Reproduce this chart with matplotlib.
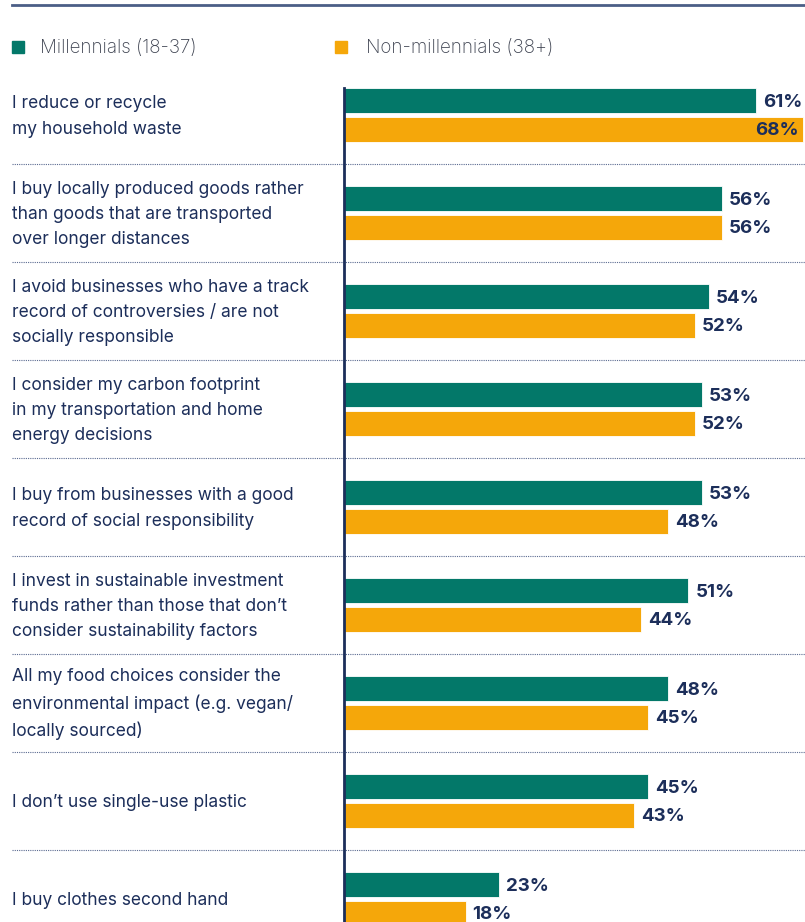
import matplotlib.pyplot as plt
from matplotlib.patches import Rectangle
from matplotlib.lines import Line2D

# Statements and survey shares (%)
statements = [
    "I reduce or recycle\nmy household waste",
    "I buy locally produced goods rather\nthan goods that are transported\nover longer distances",
    "I avoid businesses who have a track\nrecord of controversies / are not\nsocially responsible",
    "I consider my carbon footprint\nin my transportation and home\nenergy decisions",
    "I buy from businesses with a good\nrecord of social responsibility",
    "I invest in sustainable investment\nfunds rather than those that don\u2019t\nconsider sustainability factors",
    "All my food choices consider the\nenvironmental impact (e.g. vegan/\nlocally sourced)",
    "I don\u2019t use single-use plastic",
    "I buy clothes second hand",
]
millennials = [61, 56, 54, 53, 53, 51, 48, 45, 23]
non_millennials = [68, 56, 52, 52, 48, 44, 45, 43, 18]
series_names = ["Millennials (18-37)", "Non-millennials (38+)"]

green = "#037869"
orange = "#f5a70a"
navy = "#1c2e5a"

plt.rcParams['font.family'] = ['Inter', 'DejaVu Sans']

W, H = 805, 922
fig = plt.figure(figsize=(W / 100, H / 100), dpi=100)
ax = fig.add_axes([0, 0, 1, 1])
ax.axis('off')

# pixel mapping: x=344px is 0%, 6.75px per %; group spacing 98px, first centre at 115px
px_per_pct = 6.75
x0 = 344
ax.set_xlim(-x0 / px_per_pct, (W - x0) / px_per_pct)
ax.set_ylim((H - 115) / 98, -115 / 98)
xmin = -x0 / px_per_pct
xmax = (W - x0) / px_per_pct
px = 1 / px_per_pct

n = len(statements)
off = 0.143
bh = 0.255
for i in range(n):
    ax.barh(i - off, millennials[i], height=bh, color=green, edgecolor='white', linewidth=0.6)
    ax.barh(i + off, non_millennials[i], height=bh, color=orange, edgecolor='white', linewidth=0.6)
    for v, y in ((millennials[i], i - off), (non_millennials[i], i + off)):
        y = y + 0.02
        if v * px_per_pct + x0 + 48 > W:
            ax.text(v - 4 * px, y, f"{v}%", ha='right', va='center', fontsize=13.5,
                    fontweight='bold', color=navy)
        else:
            ax.text(v + 7 * px, y, f"{v}%", ha='left', va='center', fontsize=13.5,
                    fontweight='bold', color=navy)
    ax.text(xmin + 12 * px, i + 0.015, statements[i], ha='left', va='center', fontsize=12.5,
            color=navy, linespacing=1.62)
    if i < n - 1:
        ax.plot([xmin + 12 * px, xmax], [i + 0.5, i + 0.5], color='#5a6a90',
                linestyle=(0, (1, 1)), linewidth=0.8)

# vertical axis line
ax.plot([0, 0], [-0.276, n], color=navy, linewidth=2, clip_on=False)

# top rule
fig.add_artist(Line2D([12 / W, 1], [1 - 5 / H, 1 - 5 / H], color='#4b5e86', linewidth=2))

# legend
for (x_sq, x_txt, c, name) in ((12, 40, green, series_names[0]), (335, 366, orange, series_names[1])):
    fig.add_artist(Rectangle((x_sq / W, 1 - 53 / H), 12 / W, 12 / H, color=c,
                             transform=fig.transFigure))
    fig.text(x_txt / W, 1 - 48 / H, name, ha='left', va='center', fontsize=13.5,
             color='#3d4250', fontweight='light')

fig.savefig('out.png', dpi=100)
